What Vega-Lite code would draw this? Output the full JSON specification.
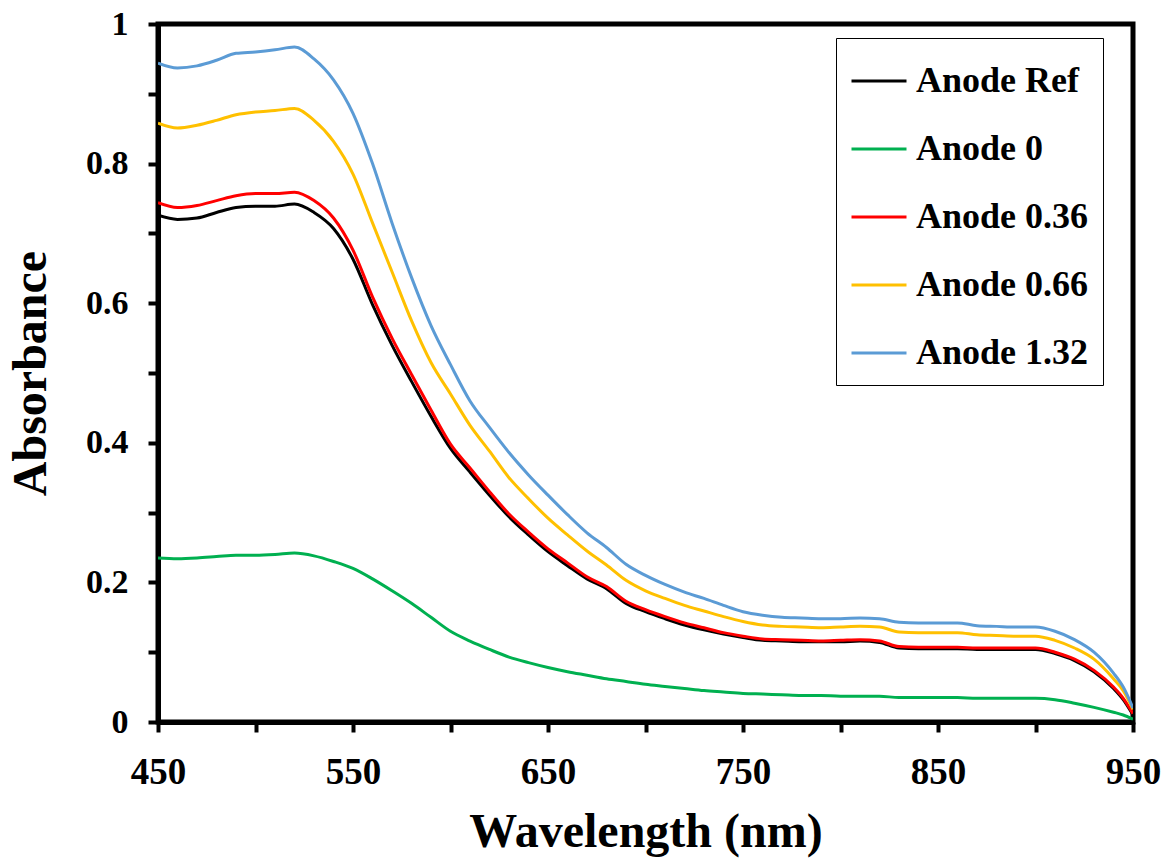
{
"$schema": "https://vega.github.io/schema/vega-lite/v6.json",
"width": 975, "height": 698,
"autosize": "none",
"padding": {"left": 158, "top": 24, "right": 33, "bottom": 139},
"background": "white",
"config": {"view": {"stroke": "black", "strokeWidth": 5}, "font": "Liberation Serif"},
"data": {"values": [
{"w":450,"s":"Anode Ref","a":0.726},{"w":460,"s":"Anode Ref","a":0.720},{"w":470,"s":"Anode Ref","a":0.722},{"w":480,"s":"Anode Ref","a":0.730},{"w":490,"s":"Anode Ref","a":0.737},{"w":500,"s":"Anode Ref","a":0.739},{"w":510,"s":"Anode Ref","a":0.739},{"w":520,"s":"Anode Ref","a":0.742},{"w":530,"s":"Anode Ref","a":0.730},{"w":540,"s":"Anode Ref","a":0.707},{"w":550,"s":"Anode Ref","a":0.663},{"w":560,"s":"Anode Ref","a":0.598},{"w":570,"s":"Anode Ref","a":0.540},{"w":580,"s":"Anode Ref","a":0.488},{"w":590,"s":"Anode Ref","a":0.438},{"w":600,"s":"Anode Ref","a":0.392},{"w":610,"s":"Anode Ref","a":0.358},{"w":620,"s":"Anode Ref","a":0.325},{"w":630,"s":"Anode Ref","a":0.294},{"w":640,"s":"Anode Ref","a":0.268},{"w":650,"s":"Anode Ref","a":0.244},{"w":660,"s":"Anode Ref","a":0.224},{"w":670,"s":"Anode Ref","a":0.205},{"w":680,"s":"Anode Ref","a":0.191},{"w":690,"s":"Anode Ref","a":0.170},{"w":700,"s":"Anode Ref","a":0.158},{"w":710,"s":"Anode Ref","a":0.148},{"w":720,"s":"Anode Ref","a":0.139},{"w":730,"s":"Anode Ref","a":0.132},{"w":740,"s":"Anode Ref","a":0.126},{"w":750,"s":"Anode Ref","a":0.121},{"w":760,"s":"Anode Ref","a":0.117},{"w":770,"s":"Anode Ref","a":0.116},{"w":780,"s":"Anode Ref","a":0.115},{"w":790,"s":"Anode Ref","a":0.115},{"w":800,"s":"Anode Ref","a":0.115},{"w":810,"s":"Anode Ref","a":0.116},{"w":820,"s":"Anode Ref","a":0.114},{"w":830,"s":"Anode Ref","a":0.106},{"w":840,"s":"Anode Ref","a":0.105},{"w":850,"s":"Anode Ref","a":0.105},{"w":860,"s":"Anode Ref","a":0.105},{"w":870,"s":"Anode Ref","a":0.104},{"w":880,"s":"Anode Ref","a":0.104},{"w":890,"s":"Anode Ref","a":0.104},{"w":900,"s":"Anode Ref","a":0.104},{"w":910,"s":"Anode Ref","a":0.098},{"w":920,"s":"Anode Ref","a":0.088},{"w":930,"s":"Anode Ref","a":0.072},{"w":940,"s":"Anode Ref","a":0.048},{"w":945,"s":"Anode Ref","a":0.032},{"w":950,"s":"Anode Ref","a":0.010},
{"w":450,"s":"Anode 0","a":0.235},{"w":460,"s":"Anode 0","a":0.234},{"w":470,"s":"Anode 0","a":0.235},{"w":480,"s":"Anode 0","a":0.237},{"w":490,"s":"Anode 0","a":0.239},{"w":500,"s":"Anode 0","a":0.239},{"w":510,"s":"Anode 0","a":0.240},{"w":520,"s":"Anode 0","a":0.242},{"w":530,"s":"Anode 0","a":0.238},{"w":540,"s":"Anode 0","a":0.230},{"w":550,"s":"Anode 0","a":0.220},{"w":560,"s":"Anode 0","a":0.205},{"w":570,"s":"Anode 0","a":0.188},{"w":580,"s":"Anode 0","a":0.170},{"w":590,"s":"Anode 0","a":0.150},{"w":600,"s":"Anode 0","a":0.130},{"w":610,"s":"Anode 0","a":0.116},{"w":620,"s":"Anode 0","a":0.104},{"w":630,"s":"Anode 0","a":0.093},{"w":640,"s":"Anode 0","a":0.085},{"w":650,"s":"Anode 0","a":0.078},{"w":660,"s":"Anode 0","a":0.072},{"w":670,"s":"Anode 0","a":0.067},{"w":680,"s":"Anode 0","a":0.062},{"w":690,"s":"Anode 0","a":0.058},{"w":700,"s":"Anode 0","a":0.054},{"w":710,"s":"Anode 0","a":0.051},{"w":720,"s":"Anode 0","a":0.048},{"w":730,"s":"Anode 0","a":0.045},{"w":740,"s":"Anode 0","a":0.043},{"w":750,"s":"Anode 0","a":0.041},{"w":760,"s":"Anode 0","a":0.040},{"w":770,"s":"Anode 0","a":0.039},{"w":780,"s":"Anode 0","a":0.038},{"w":790,"s":"Anode 0","a":0.038},{"w":800,"s":"Anode 0","a":0.037},{"w":810,"s":"Anode 0","a":0.037},{"w":820,"s":"Anode 0","a":0.037},{"w":830,"s":"Anode 0","a":0.035},{"w":840,"s":"Anode 0","a":0.035},{"w":850,"s":"Anode 0","a":0.035},{"w":860,"s":"Anode 0","a":0.035},{"w":870,"s":"Anode 0","a":0.034},{"w":880,"s":"Anode 0","a":0.034},{"w":890,"s":"Anode 0","a":0.034},{"w":900,"s":"Anode 0","a":0.034},{"w":910,"s":"Anode 0","a":0.032},{"w":920,"s":"Anode 0","a":0.027},{"w":930,"s":"Anode 0","a":0.021},{"w":940,"s":"Anode 0","a":0.014},{"w":945,"s":"Anode 0","a":0.010},{"w":950,"s":"Anode 0","a":0.004},
{"w":450,"s":"Anode 0.36","a":0.744},{"w":460,"s":"Anode 0.36","a":0.737},{"w":470,"s":"Anode 0.36","a":0.740},{"w":480,"s":"Anode 0.36","a":0.747},{"w":490,"s":"Anode 0.36","a":0.754},{"w":500,"s":"Anode 0.36","a":0.757},{"w":510,"s":"Anode 0.36","a":0.757},{"w":520,"s":"Anode 0.36","a":0.759},{"w":530,"s":"Anode 0.36","a":0.747},{"w":540,"s":"Anode 0.36","a":0.722},{"w":550,"s":"Anode 0.36","a":0.676},{"w":560,"s":"Anode 0.36","a":0.609},{"w":570,"s":"Anode 0.36","a":0.550},{"w":580,"s":"Anode 0.36","a":0.498},{"w":590,"s":"Anode 0.36","a":0.447},{"w":600,"s":"Anode 0.36","a":0.398},{"w":610,"s":"Anode 0.36","a":0.364},{"w":620,"s":"Anode 0.36","a":0.330},{"w":630,"s":"Anode 0.36","a":0.298},{"w":640,"s":"Anode 0.36","a":0.272},{"w":650,"s":"Anode 0.36","a":0.248},{"w":660,"s":"Anode 0.36","a":0.228},{"w":670,"s":"Anode 0.36","a":0.208},{"w":680,"s":"Anode 0.36","a":0.194},{"w":690,"s":"Anode 0.36","a":0.173},{"w":700,"s":"Anode 0.36","a":0.161},{"w":710,"s":"Anode 0.36","a":0.151},{"w":720,"s":"Anode 0.36","a":0.142},{"w":730,"s":"Anode 0.36","a":0.135},{"w":740,"s":"Anode 0.36","a":0.128},{"w":750,"s":"Anode 0.36","a":0.123},{"w":760,"s":"Anode 0.36","a":0.119},{"w":770,"s":"Anode 0.36","a":0.118},{"w":780,"s":"Anode 0.36","a":0.117},{"w":790,"s":"Anode 0.36","a":0.116},{"w":800,"s":"Anode 0.36","a":0.117},{"w":810,"s":"Anode 0.36","a":0.118},{"w":820,"s":"Anode 0.36","a":0.116},{"w":830,"s":"Anode 0.36","a":0.108},{"w":840,"s":"Anode 0.36","a":0.107},{"w":850,"s":"Anode 0.36","a":0.107},{"w":860,"s":"Anode 0.36","a":0.107},{"w":870,"s":"Anode 0.36","a":0.106},{"w":880,"s":"Anode 0.36","a":0.106},{"w":890,"s":"Anode 0.36","a":0.106},{"w":900,"s":"Anode 0.36","a":0.106},{"w":910,"s":"Anode 0.36","a":0.100},{"w":920,"s":"Anode 0.36","a":0.090},{"w":930,"s":"Anode 0.36","a":0.074},{"w":940,"s":"Anode 0.36","a":0.050},{"w":945,"s":"Anode 0.36","a":0.034},{"w":950,"s":"Anode 0.36","a":0.012},
{"w":450,"s":"Anode 0.66","a":0.858},{"w":460,"s":"Anode 0.66","a":0.851},{"w":470,"s":"Anode 0.66","a":0.855},{"w":480,"s":"Anode 0.66","a":0.862},{"w":490,"s":"Anode 0.66","a":0.870},{"w":500,"s":"Anode 0.66","a":0.874},{"w":510,"s":"Anode 0.66","a":0.876},{"w":520,"s":"Anode 0.66","a":0.879},{"w":530,"s":"Anode 0.66","a":0.862},{"w":540,"s":"Anode 0.66","a":0.832},{"w":550,"s":"Anode 0.66","a":0.785},{"w":560,"s":"Anode 0.66","a":0.715},{"w":570,"s":"Anode 0.66","a":0.645},{"w":580,"s":"Anode 0.66","a":0.575},{"w":590,"s":"Anode 0.66","a":0.515},{"w":600,"s":"Anode 0.66","a":0.470},{"w":610,"s":"Anode 0.66","a":0.425},{"w":620,"s":"Anode 0.66","a":0.388},{"w":630,"s":"Anode 0.66","a":0.350},{"w":640,"s":"Anode 0.66","a":0.320},{"w":650,"s":"Anode 0.66","a":0.292},{"w":660,"s":"Anode 0.66","a":0.268},{"w":670,"s":"Anode 0.66","a":0.245},{"w":680,"s":"Anode 0.66","a":0.225},{"w":690,"s":"Anode 0.66","a":0.203},{"w":700,"s":"Anode 0.66","a":0.188},{"w":710,"s":"Anode 0.66","a":0.177},{"w":720,"s":"Anode 0.66","a":0.167},{"w":730,"s":"Anode 0.66","a":0.159},{"w":740,"s":"Anode 0.66","a":0.151},{"w":750,"s":"Anode 0.66","a":0.144},{"w":760,"s":"Anode 0.66","a":0.139},{"w":770,"s":"Anode 0.66","a":0.137},{"w":780,"s":"Anode 0.66","a":0.136},{"w":790,"s":"Anode 0.66","a":0.135},{"w":800,"s":"Anode 0.66","a":0.136},{"w":810,"s":"Anode 0.66","a":0.137},{"w":820,"s":"Anode 0.66","a":0.136},{"w":830,"s":"Anode 0.66","a":0.129},{"w":840,"s":"Anode 0.66","a":0.128},{"w":850,"s":"Anode 0.66","a":0.128},{"w":860,"s":"Anode 0.66","a":0.128},{"w":870,"s":"Anode 0.66","a":0.125},{"w":880,"s":"Anode 0.66","a":0.124},{"w":890,"s":"Anode 0.66","a":0.123},{"w":900,"s":"Anode 0.66","a":0.123},{"w":910,"s":"Anode 0.66","a":0.117},{"w":920,"s":"Anode 0.66","a":0.106},{"w":930,"s":"Anode 0.66","a":0.090},{"w":940,"s":"Anode 0.66","a":0.062},{"w":945,"s":"Anode 0.66","a":0.045},{"w":950,"s":"Anode 0.66","a":0.018},
{"w":450,"s":"Anode 1.32","a":0.944},{"w":460,"s":"Anode 1.32","a":0.937},{"w":470,"s":"Anode 1.32","a":0.940},{"w":480,"s":"Anode 1.32","a":0.948},{"w":490,"s":"Anode 1.32","a":0.958},{"w":500,"s":"Anode 1.32","a":0.960},{"w":510,"s":"Anode 1.32","a":0.963},{"w":520,"s":"Anode 1.32","a":0.967},{"w":530,"s":"Anode 1.32","a":0.950},{"w":540,"s":"Anode 1.32","a":0.920},{"w":550,"s":"Anode 1.32","a":0.872},{"w":560,"s":"Anode 1.32","a":0.800},{"w":570,"s":"Anode 1.32","a":0.715},{"w":580,"s":"Anode 1.32","a":0.637},{"w":590,"s":"Anode 1.32","a":0.568},{"w":600,"s":"Anode 1.32","a":0.512},{"w":610,"s":"Anode 1.32","a":0.460},{"w":620,"s":"Anode 1.32","a":0.422},{"w":630,"s":"Anode 1.32","a":0.386},{"w":640,"s":"Anode 1.32","a":0.354},{"w":650,"s":"Anode 1.32","a":0.325},{"w":660,"s":"Anode 1.32","a":0.297},{"w":670,"s":"Anode 1.32","a":0.271},{"w":680,"s":"Anode 1.32","a":0.250},{"w":690,"s":"Anode 1.32","a":0.226},{"w":700,"s":"Anode 1.32","a":0.210},{"w":710,"s":"Anode 1.32","a":0.197},{"w":720,"s":"Anode 1.32","a":0.186},{"w":730,"s":"Anode 1.32","a":0.177},{"w":740,"s":"Anode 1.32","a":0.167},{"w":750,"s":"Anode 1.32","a":0.158},{"w":760,"s":"Anode 1.32","a":0.153},{"w":770,"s":"Anode 1.32","a":0.150},{"w":780,"s":"Anode 1.32","a":0.149},{"w":790,"s":"Anode 1.32","a":0.148},{"w":800,"s":"Anode 1.32","a":0.148},{"w":810,"s":"Anode 1.32","a":0.149},{"w":820,"s":"Anode 1.32","a":0.148},{"w":830,"s":"Anode 1.32","a":0.143},{"w":840,"s":"Anode 1.32","a":0.142},{"w":850,"s":"Anode 1.32","a":0.142},{"w":860,"s":"Anode 1.32","a":0.142},{"w":870,"s":"Anode 1.32","a":0.138},{"w":880,"s":"Anode 1.32","a":0.137},{"w":890,"s":"Anode 1.32","a":0.136},{"w":900,"s":"Anode 1.32","a":0.136},{"w":910,"s":"Anode 1.32","a":0.130},{"w":920,"s":"Anode 1.32","a":0.118},{"w":930,"s":"Anode 1.32","a":0.100},{"w":940,"s":"Anode 1.32","a":0.070},{"w":945,"s":"Anode 1.32","a":0.050},{"w":950,"s":"Anode 1.32","a":0.020}
]},
"mark": {"type": "line", "strokeWidth": 3, "clip": true, "interpolate": "monotone"},
"encoding": {
"x": {"field": "w", "type": "quantitative", "scale": {"domain": [450, 950], "nice": false, "zero": false},
  "axis": {"title": "Wavelength (nm)", "titleFont": "Liberation Serif", "titleFontSize": 48, "titleFontWeight": "bold", "titleColor": "black", "titlePadding": 18,
    "values": [450,500,550,600,650,700,750,800,850,900,950], "labelExpr": "(datum.value-450)%100==0 ? ''+datum.value : ''",
    "labelFont": "Liberation Serif", "labelFontSize": 37, "labelFontWeight": "bold", "labelColor": "black", "labelPadding": 22, "labelFlush": false,
    "domainColor": "black", "domainWidth": 5, "tickColor": "black", "tickWidth": 4, "tickSize": 10, "grid": false}},
"y": {"field": "a", "type": "quantitative", "scale": {"domain": [0, 1], "nice": false},
  "axis": {"title": "Absorbance", "titleFont": "Liberation Serif", "titleFontSize": 48, "titleFontWeight": "bold", "titleColor": "black", "titlePadding": 30,
    "values": [0,0.1,0.2,0.3,0.4,0.5,0.6,0.7,0.8,0.9,1], "labelExpr": "round(datum.value*10)%2==0 ? format(datum.value,'~g') : ''",
    "labelFont": "Liberation Serif", "labelFontSize": 34, "labelFontWeight": "bold", "labelColor": "black", "labelPadding": 20, "labelFlush": false,
    "domainColor": "black", "domainWidth": 5, "tickColor": "black", "tickWidth": 4, "tickSize": 10, "grid": false}},
"color": {"field": "s", "type": "nominal", "sort": ["Anode Ref","Anode 0","Anode 0.36","Anode 0.66","Anode 1.32"],
  "scale": {"domain": ["Anode Ref","Anode 0","Anode 0.36","Anode 0.66","Anode 1.32"], "range": ["#000000","#00B050","#FF0000","#FFC000","#5B9BD5"]},
  "legend": {"title": null, "orient": "none", "legendX": 678, "legendY": 14, "strokeColor": "black", "fillColor": "white",
    "padding": 14, "symbolType": "stroke", "symbolSize": 3025, "symbolStrokeWidth": 3, "rowPadding": 21,
    "labelFont": "Liberation Serif", "labelFontSize": 36, "labelFontWeight": "bold", "labelColor": "black", "labelOffset": 8, "labelLimit": 300}}
}
}
